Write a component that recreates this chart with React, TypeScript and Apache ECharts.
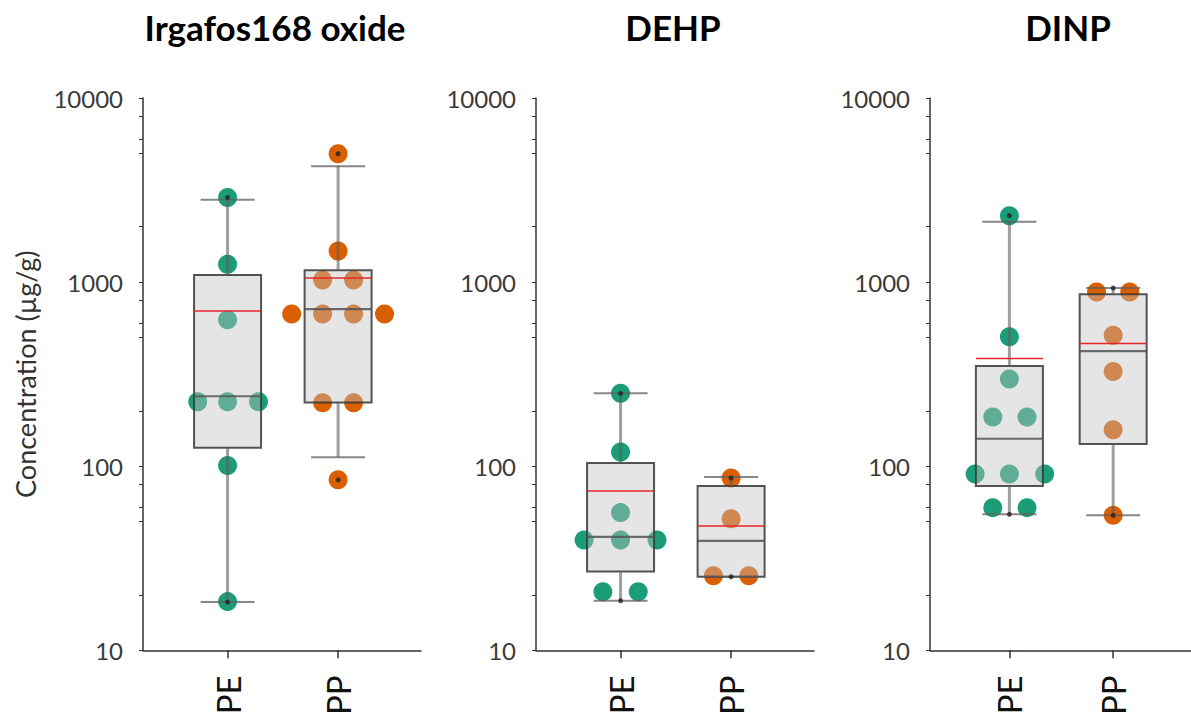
import React, { useEffect, useRef } from "react";
import * as echarts from "echarts";

// ---------- data ----------
const panelTitles = ["Irgafos168 oxide", "DEHP", "DINP"];
const groups = ["PE", "PP"];
const yTickValues = [10, 100, 1000, 10000];
const yMinorTicks = [20, 50, 60, 80, 200, 500, 600, 800, 2000, 5000, 6000, 8000];

// box stats: [lower whisker, Q1, median, Q3, upper whisker]
const irgBoxPE = [18.3, 126, 240, 1092, 2800];
const irgBoxPP = [112, 222, 714, 1161, 4260];
const dehpBoxPE = [18.6, 26.8, 41.3, 104, 249];
const dehpBoxPP = [25.1, 25.1, 39.3, 78, 87.3];
const dinpBoxPE = [54.8, 78, 141, 350, 2128];
const dinpBoxPP = [54.1, 132, 422, 859, 929];

// means
const irgMean = [697, 1052];
const dehpMean = [73.4, 47.4];
const dinpMean = [385, 464];

// individual points: [value, horizontal jitter in category units]
const irgPointsPE = [[2880, 0], [1250, 0], [624, 0], [224, -0.27], [224, 0], [224, 0.28], [101, 0], [18.4, 0]];
const irgPointsPP = [[4980, 0], [1476, 0], [1028, -0.14], [1028, 0.14], [671, -0.42], [671, -0.14], [671, 0.14], [671, 0.42], [221, -0.14], [221, 0.14], [84.4, 0]];
const dehpPointsPE = [[249, 0], [119.5, 0], [56, 0], [39.8, -0.33], [39.8, 0], [39.8, 0.33], [20.8, -0.16], [20.8, 0.16]];
const dehpPointsPP = [[86.3, 0], [51.8, 0], [25.4, -0.16], [25.4, 0.16]];
const dinpPointsPE = [[2296, 0], [505, 0], [298, 0], [185, -0.16], [185, 0.17], [90.8, -0.33], [90.8, 0], [90.8, 0.34], [59.6, -0.16], [59.6, 0.17]];
const dinpPointsPP = [[883, -0.16], [883, 0.16], [515, 0], [327, 0], [158, 0], [54.1, 0]];

// min / max markers (small black dots)
const irgExtremes = [[2880, 18.3], [4980, 84.4]];
const dehpExtremes = [[249, 18.6], [86.3, 25.1]];
const dinpExtremes = [[2296, 54.8], [929, 54.1]];

const panels = [
  { title: panelTitles[0], boxes: [irgBoxPE, irgBoxPP], means: irgMean, points: [irgPointsPE, irgPointsPP], ext: irgExtremes },
  { title: panelTitles[1], boxes: [dehpBoxPE, dehpBoxPP], means: dehpMean, points: [dehpPointsPE, dehpPointsPP], ext: dehpExtremes },
  { title: panelTitles[2], boxes: [dinpBoxPE, dinpBoxPP], means: dinpMean, points: [dinpPointsPE, dinpPointsPP], ext: dinpExtremes },
];

const groupColors = ["#1b9e77", "#d95f02"];
const gridLefts = [143, 536, 930];
const gridWidth = 278;
const titleCenters = [270, 668, 1063];
const FONT = "Lato, 'Open Sans', sans-serif";

export default function App() {
  const ref = useRef<HTMLDivElement>(null);
  useEffect(() => {
    if (!ref.current) return;
    const chart = echarts.init(ref.current, null, { renderer: "svg" });

    const grid: any[] = [];
    const xAxis: any[] = [];
    const yAxis: any[] = [];
    const series: any[] = [];
    const title: any[] = [];

    panels.forEach((p, pi) => {
      grid.push({ left: gridLefts[pi], width: gridWidth, top: 98, height: 556 });
      title.push({
        text: p.title,
        left: titleCenters[pi],
        top: 4,
        textAlign: "center",
        textStyle: { fontFamily: FONT, fontWeight: "bold", fontSize: 35, color: "#000" },
      });
      xAxis.push({
        gridIndex: pi,
        type: "value",
        min: 0.235,
        max: 2.75,
        splitLine: { show: false },
        axisLine: { show: true, lineStyle: { color: "#333", width: 1.5 } },
        axisTick: { show: true, customValues: [1, 2], length: 8, lineStyle: { color: "#333", width: 1.5 } },
        axisLabel: {
          customValues: [1, 2],
          formatter: (v: number) => groups[Math.round(v) - 1] || "",
          rotate: 90,
          margin: 25,
          fontFamily: FONT,
          fontSize: 33,
          color: "#111",
        },
      });
      yAxis.push({
        gridIndex: pi,
        type: "log",
        logBase: 10,
        min: 10,
        max: 10000,
        splitLine: { show: false },
        axisLine: { show: true, lineStyle: { color: "#333", width: 1.5 } },
        axisTick: { show: true, customValues: [...yTickValues, ...yMinorTicks], length: 4, lineStyle: { color: "#333" } },
        axisLabel: {
          customValues: yTickValues,
          formatter: (v: number) => String(Math.round(v)),
          fontFamily: FONT,
          fontSize: 24,
          color: "#3a3a3a",
          margin: 20,
        },
        name: pi === 0 ? "Concentration (µg/g)" : "",
        nameLocation: "middle",
        nameRotate: 90,
        nameGap: 104,
        nameTextStyle: { fontFamily: FONT, fontSize: 27, color: "#333" },
      });

      // points
      p.points.forEach((pts, gi) => {
        series.push({
          type: "scatter",
          xAxisIndex: pi,
          yAxisIndex: pi,
          symbol: "circle",
          symbolSize: 19,
          itemStyle: { color: groupColors[gi], opacity: 1 },
          data: pts.map(([v, j]) => [gi + 1 + j, v]),
          z: 2,
        });
      });

      // boxes
      series.push({
        type: "custom",
        xAxisIndex: pi,
        yAxisIndex: pi,
        z: 3,
        data: p.boxes.map((b, gi) => [gi + 1, ...b, p.means[gi]]),
        renderItem: (params: any, api: any) => {
          const x = api.value(0);
          const lo = api.coord([x, api.value(1)]);
          const q1 = api.coord([x, api.value(2)]);
          const med = api.coord([x, api.value(3)]);
          const q3 = api.coord([x, api.value(4)]);
          const hi = api.coord([x, api.value(5)]);
          const mean = api.coord([x, api.value(6)]);
          const cx = lo[0];
          const hw = 33.5;
          const cw = 27;
          const whisker = { stroke: "rgba(95,95,95,0.6)", lineWidth: 3 };
          const cap = { stroke: "rgba(95,95,95,0.75)", lineWidth: 2 };
          return {
            type: "group",
            children: [
              {
                type: "rect",
                shape: { x: cx - hw, y: q3[1], width: hw * 2, height: Math.max(q1[1] - q3[1], 1) },
                style: { fill: "rgba(194,194,194,0.42)", stroke: "rgba(55,55,55,0.85)", lineWidth: 2 },
              },
              { type: "line", shape: { x1: cx, y1: q3[1], x2: cx, y2: hi[1] }, style: whisker },
              { type: "line", shape: { x1: cx, y1: q1[1], x2: cx, y2: lo[1] }, style: whisker },
              { type: "line", shape: { x1: cx - cw, y1: hi[1], x2: cx + cw, y2: hi[1] }, style: cap },
              { type: "line", shape: { x1: cx - cw, y1: lo[1], x2: cx + cw, y2: lo[1] }, style: cap },
              { type: "line", shape: { x1: cx - hw, y1: med[1], x2: cx + hw, y2: med[1] }, style: { stroke: "rgba(85,85,85,0.85)", lineWidth: 2.2 } },
              { type: "line", shape: { x1: cx - hw, y1: mean[1], x2: cx + hw, y2: mean[1] }, style: { stroke: "#e3262b", lineWidth: 1.6 } },
            ],
          };
        },
      });

      // extremes
      series.push({
        type: "scatter",
        xAxisIndex: pi,
        yAxisIndex: pi,
        symbol: "circle",
        symbolSize: 5,
        itemStyle: { color: "#222" },
        data: p.ext.flatMap((e, gi) => e.map((v) => [gi + 1, v])),
        z: 4,
      });
    });

    chart.setOption({
      animation: false,
      backgroundColor: "#fff",
      title,
      grid,
      xAxis,
      yAxis,
      series,
    });
    return () => chart.dispose();
  }, []);

  return <div ref={ref} style={{ position: "absolute", left: 0, top: 0, width: 1191, height: 718 }} />;
}
